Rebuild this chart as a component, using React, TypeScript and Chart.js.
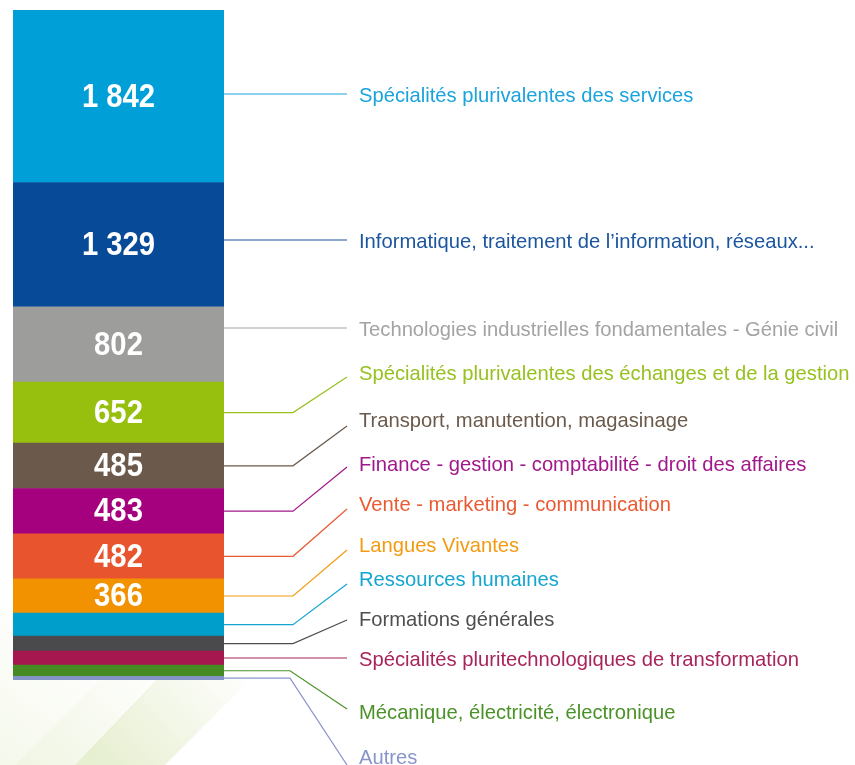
import React, { useEffect, useRef } from "react";
import { Chart, registerables } from "chart.js";

Chart.register(...registerables);

// Data (top to bottom of the stacked bar)
const categories = [
  "Spécialités plurivalentes des services",
  "Informatique, traitement de l’information, réseaux...",
  "Technologies industrielles fondamentales - Génie civil",
  "Spécialités plurivalentes des échanges et de la gestion",
  "Transport, manutention, magasinage",
  "Finance - gestion - comptabilité - droit des affaires",
  "Vente - marketing - communication",
  "Langues Vivantes",
  "Ressources humaines",
  "Formations générales",
  "Spécialités pluritechnologiques de transformation",
  "Mécanique, électricité, électronique",
  "Autres",
];
const values = [1842, 1329, 802, 652, 485, 483, 482, 366, 246, 160, 150, 118, 40];
const barColors = [
  "#009fd8", "#074b98", "#9d9d9c", "#97bf0d", "#6b5a4b", "#a5007e", "#e8542e",
  "#f39200", "#009ecb", "#4a4a4c", "#a6174f", "#468a24", "#8594c6",
];
const labelColors = [
  "#1aa3dc", "#1a559f", "#a3a3a3", "#96c11f", "#6b5a4b", "#a0188a", "#ea5a32",
  "#f39a12", "#14a5d0", "#4e4e4e", "#a8245a", "#4a9228", "#8895cc",
];
// Layout of the annotation labels (pixel y of text centre, leader end y)
const labelY = [94, 240, 328, 372, 419, 463, 503, 544, 578, 618, 658, 711, 756];
const lineEndY = [94, 240, 328, 377, 426, 467, 509, 550, 584, 620, 658, 709, 765];

const total = values.reduce((a, b) => a + b, 0);
const fmt = (v: number) => String(v).replace(/\B(?=(\d{3})+(?!\d))/g, " ");

export default function App() {
  const ref = useRef<HTMLCanvasElement>(null);
  useEffect(() => {
    if (!ref.current) return;
    const n = categories.length;
    const order = [...Array(n).keys()].reverse(); // bottom first
    const datasets = order.map((i) => ({
      label: categories[i],
      data: [values[i]],
      backgroundColor: barColors[i],
      borderWidth: 0,
      barPercentage: 1,
      categoryPercentage: 1,
      idx: i,
    }));

    const bgPlugin = {
      id: "bg",
      beforeDraw(chart: any) {
        const ctx = chart.ctx;
        ctx.save();
        ctx.fillStyle = "#ffffff";
        ctx.fillRect(0, 0, chart.width, chart.height);
        const band = (pts: number[][], x0: number, y0: number, x1: number, y1: number, a: number) => {
          const g = ctx.createLinearGradient(x0, y0, x1, y1);
          g.addColorStop(0, `rgba(208,224,165,${a})`);
          g.addColorStop(1, "rgba(208,224,165,0)");
          ctx.fillStyle = g;
          ctx.beginPath();
          ctx.moveTo(pts[0][0], pts[0][1]);
          for (let k = 1; k < pts.length; k++) ctx.lineTo(pts[k][0], pts[k][1]);
          ctx.closePath();
          ctx.fill();
        };
        band([[0, 610], [0, 765], [15, 765], [120, 660], [40, 600]], 0, 765, 90, 640, 0.22);
        band([[15, 765], [75, 765], [190, 650], [130, 650]], 30, 765, 150, 650, 0.3);
        band([[75, 765], [165, 765], [270, 660], [195, 640]], 110, 765, 230, 650, 0.5);
        ctx.restore();
      },
    };

    const annoPlugin = {
      id: "anno",
      afterDatasetsDraw(chart: any) {
        const ctx = chart.ctx;
        ctx.save();
        chart.data.datasets.forEach((ds: any, di: number) => {
          const el = chart.getDatasetMeta(di).data[0] as any;
          const i = ds.idx;
          const top = Math.min(el.y, el.base);
          const bot = Math.max(el.y, el.base);
          const mid = (top + bot) / 2;
          const right = el.x + el.width / 2;
          // value labels (condensed bold)
          if (values[i] >= 300) {
            ctx.save();
            ctx.fillStyle = "#ffffff";
            ctx.font = "bold 34px 'Liberation Sans', Arial, sans-serif";
            ctx.textAlign = "center";
            ctx.textBaseline = "middle";
            ctx.translate(el.x, mid + 1);
            ctx.scale(0.86, 1);
            ctx.fillText(fmt(values[i]), 0, 0);
            ctx.restore();
          }
          // leader line
          ctx.strokeStyle = labelColors[i];
          ctx.lineWidth = 1.2;
          ctx.beginPath();
          const ly = labelY[i];
          if (ly >= top && ly <= bot) {
            ctx.moveTo(right, ly);
            ctx.lineTo(347, ly);
          } else {
            const elbow = i >= 11 ? 290 : 293;
            ctx.moveTo(right, mid);
            ctx.lineTo(elbow, mid);
            ctx.lineTo(347, lineEndY[i]);
          }
          ctx.stroke();
          // category label
          ctx.fillStyle = labelColors[i];
          ctx.font = "20.2px 'Liberation Sans', Arial, sans-serif";
          ctx.textAlign = "left";
          ctx.textBaseline = "middle";
          ctx.fillText(categories[i], 359, ly + 2);
        });
        ctx.restore();
      },
    };

    const chart = new Chart(ref.current, {
      type: "bar",
      data: { labels: [""], datasets: datasets as any },
      options: {
        responsive: false,
        animation: false,
        devicePixelRatio: 1,
        layout: { padding: { left: 13, right: 631, top: 10, bottom: 85 } },
        scales: {
          x: { stacked: true, display: false },
          y: { stacked: true, display: false, min: 0, max: total },
        },
        plugins: { legend: { display: false }, tooltip: { enabled: false } },
      },
      plugins: [bgPlugin, annoPlugin],
    });
    return () => chart.destroy();
  }, []);
  return (
    <div style={{ position: "absolute", left: 0, top: 0, width: 855, height: 765 }}>
      <canvas ref={ref} width={855} height={765} />
    </div>
  );
}
